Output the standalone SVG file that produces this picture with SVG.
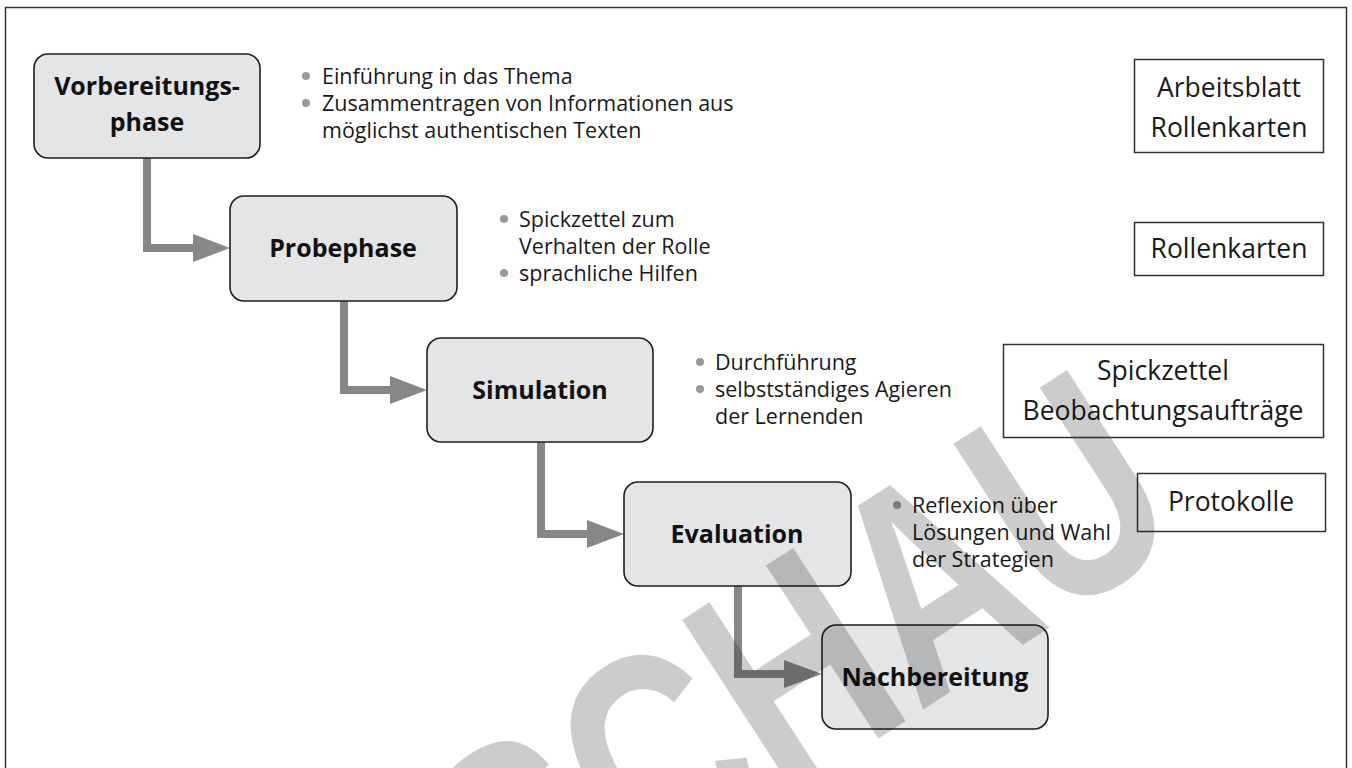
<svg xmlns="http://www.w3.org/2000/svg" width="1352" height="768" viewBox="0 0 1352 768">
<defs>
<style>
.box{fill:#e4e5e7;stroke:#1e1e1e;stroke-width:1.6}
.res{fill:#fff;stroke:#333;stroke-width:1.5}
.title{font-family:"Open Sans","Liberation Sans",sans-serif;font-weight:bold;font-size:25px;fill:#111;text-anchor:middle}
.bt{font-family:"Open Sans","Liberation Sans",sans-serif;font-size:21.5px;fill:#1a1a1a}
.rt{font-family:"Open Sans","Liberation Sans",sans-serif;font-size:26.5px;fill:#1a1a1a;text-anchor:middle}
.dot{fill:#9a9a9a}
.conn{fill:none;stroke:#878787;stroke-width:8}
.head{fill:#878787}
.wm{font-family:"Liberation Sans","DejaVu Sans",sans-serif;font-weight:bold;font-size:300px;fill:#000;fill-opacity:0.2}
</style>
</defs>
<rect x="0" y="0" width="1352" height="768" fill="#fff"/>
<rect x="5.5" y="7.5" width="1341" height="800" fill="none" stroke="#333" stroke-width="1.5"/>

<g id="connectors">
<path class="conn" d="M147 158 V248 H196"/>
<polygon class="head" points="193,234 230,248 193,262"/>
<path class="conn" d="M344 301 V390 H393"/>
<polygon class="head" points="390,376 427,390 390,404"/>
<path class="conn" d="M541 442 V534 H590"/>
<polygon class="head" points="587,520 624,534 587,548"/>
<path class="conn" d="M738 586 V674 H787"/>
<polygon class="head" points="784,660 822,674 784,688"/>
</g>

<g id="node-vorbereitung">
<rect class="box" x="34" y="54" width="226" height="104" rx="14"/>
<text class="title" x="147" y="95">Vorbereitungs-</text>
<text class="title" x="147" y="131">phase</text>
</g>
<g id="node-probephase">
<rect class="box" x="230" y="196" width="227" height="105" rx="14"/>
<text class="title" x="343" y="257">Probephase</text>
</g>
<g id="node-simulation">
<rect class="box" x="427" y="338" width="226" height="104" rx="14"/>
<text class="title" x="540" y="399">Simulation</text>
</g>
<g id="node-evaluation">
<rect class="box" x="624" y="482" width="227" height="104" rx="14"/>
<text class="title" x="737" y="543">Evaluation</text>
</g>
<g id="node-nachbereitung">
<rect class="box" x="822" y="625" width="226" height="104" rx="14"/>
<text class="title" x="935" y="686">Nachbereitung</text>
</g>

<g id="notes-1">
<circle class="dot" cx="306" cy="76" r="4"/>
<circle class="dot" cx="306" cy="103" r="4"/>
<text class="bt" x="322" y="84">Einführung in das Thema</text>
<text class="bt" x="322" y="111">Zusammentragen von Informationen aus</text>
<text class="bt" x="322" y="138">möglichst authentischen Texten</text>
</g>
<g id="notes-2">
<circle class="dot" cx="504" cy="219" r="4"/>
<circle class="dot" cx="504" cy="273" r="4"/>
<text class="bt" x="519" y="227">Spickzettel zum</text>
<text class="bt" x="519" y="254">Verhalten der Rolle</text>
<text class="bt" x="519" y="281">sprachliche Hilfen</text>
</g>
<g id="notes-3">
<circle class="dot" cx="700" cy="362" r="4"/>
<circle class="dot" cx="700" cy="389" r="4"/>
<text class="bt" x="715" y="370">Durchführung</text>
<text class="bt" x="715" y="397">selbstständiges Agieren</text>
<text class="bt" x="715" y="424">der Lernenden</text>
</g>
<g id="notes-4">
<circle class="dot" cx="897" cy="505" r="4"/>
<text class="bt" x="912" y="513">Reflexion über</text>
<text class="bt" x="912" y="540">Lösungen und Wahl</text>
<text class="bt" x="912" y="567">der Strategien</text>
</g>

<g id="res-1">
<rect class="res" x="1134.5" y="59.5" width="189" height="93"/>
<text class="rt" x="1229" y="97">Arbeitsblatt</text>
<text class="rt" x="1229" y="137">Rollenkarten</text>
</g>
<g id="res-2">
<rect class="res" x="1134.5" y="222.5" width="189" height="53"/>
<text class="rt" x="1229" y="258">Rollenkarten</text>
</g>
<g id="res-3">
<rect class="res" x="1003.5" y="344.5" width="320" height="93"/>
<text class="rt" x="1163" y="380">Spickzettel</text>
<text class="rt" x="1163" y="420">Beobachtungsaufträge</text>
</g>
<g id="res-4">
<rect class="res" x="1137.5" y="473.5" width="188" height="58"/>
<text class="rt" x="1231" y="511">Protokolle</text>
</g>

<text class="wm" transform="translate(111,1237) rotate(-33) scale(0.75,1)">VORSCHAU</text>
</svg>
